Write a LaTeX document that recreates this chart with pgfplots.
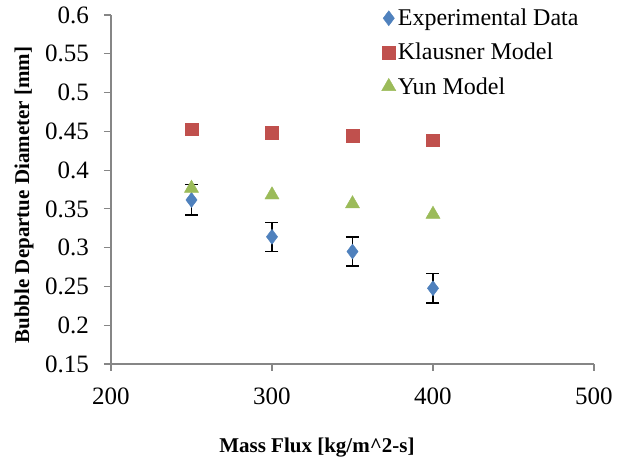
\documentclass[border=0pt]{standalone}
\usepackage{pgfplots}
\pgfplotsset{compat=1.18}
\usepackage{fontspec}
\setmainfont{Liberation Serif}
\definecolor{exblue}{HTML}{4F81BD}
\definecolor{klred}{HTML}{C0504D}
\definecolor{yungreen}{HTML}{9BBB59}
\definecolor{axgray}{HTML}{868686}
\begin{document}
\begin{tikzpicture}
\begin{axis}[
  scale only axis,
  width=483pt, height=349pt,
  xmin=200, xmax=500, ymin=0.15, ymax=0.6,
  xtick={200,300,400,500},
  ytick={0.15,0.2,0.25,0.3,0.35,0.4,0.45,0.5,0.55,0.6},
  yticklabels={0.15,0.2,0.25,0.3,0.35,0.4,0.45,0.5,0.55,0.6},
  axis lines*=left,
  axis line style={axgray, line width=1.2pt},
  tick style={axgray, line width=1.2pt},
  tick align=outside,
  major tick length=7pt,
  /pgf/number format/assume math mode=true,
  tick label style={font=\fontsize{25}{28}\selectfont, inner sep=0pt},
  yticklabel style={anchor=east, xshift=-15pt},
  xticklabel style={anchor=north, yshift=-17pt},
  xlabel={\textbf{Mass Flux [kg/m\^{}2-s]}},
  ylabel={\textbf{Bubble Departue Diameter [mm]}},
  xlabel style={font=\fontsize{21}{25}\selectfont, at={(axis description cs:0.4265,-0.238)}, anchor=center},
  ylabel style={font=\fontsize{21}{25}\selectfont, at={(axis description cs:-0.180,0.484)}, anchor=center},
  legend style={draw=none, fill=none, at={(0.560,1.023)}, anchor=north west,
    font=\fontsize{24}{28}\selectfont, inner sep=0pt, row sep=12pt,
    cells={anchor=west}},
  legend cell align=left,
  legend image code/.code={\draw[#1] plot coordinates {(0pt,0pt)};},
  clip=false,
]
\coordinate (O) at (rel axis cs:0,0);
\addplot[only marks, mark=diamond*, mark size=7.5pt, draw=exblue, fill=exblue,
  error bars/.cd, y dir=both, y explicit,
  error bar style={black, line width=1.3pt},
  error mark options={rotate=90, mark size=6.5pt, black, line width=1.3pt}]
  coordinates {
  (250,0.3615) +- (0,0.0195)
  (300,0.314) +- (0,0.0188)
  (350,0.295) +- (0,0.0188)
  (400,0.2476) +- (0,0.019)
};
\addlegendentry{Experimental Data}
\addplot[only marks, mark=square*, mark size=6.3pt, draw=klred, fill=klred]
  coordinates {(250,0.453) (300,0.4485) (350,0.444) (400,0.4385)};
\addlegendentry{Klausner Model}
\addplot[only marks, mark=triangle*, mark size=8.2pt, draw=yungreen, fill=yungreen]
  coordinates {(250,0.3765) (300,0.368) (350,0.3565) (400,0.343)};
\addlegendentry{Yun Model}
\end{axis}
\pgfresetboundingbox
\path ([shift={(-111pt,-99pt)}]O) rectangle ++(627pt,463pt);
\end{tikzpicture}
\end{document}
